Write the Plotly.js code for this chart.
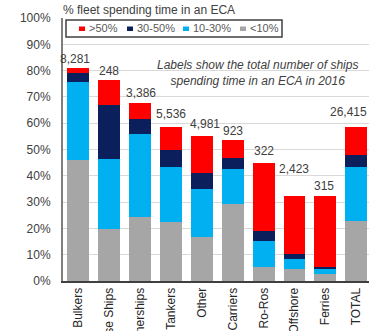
<!DOCTYPE html>
<html>
<head>
<meta charset="utf-8">
<script src="https://cdn.plot.ly/plotly-3.0.1.min.js"></script>
<style>html,body{margin:0;padding:0;background:#fff;}#chart{width:369px;height:331px;}</style>
</head>
<body>
<div id="chart"></div>
<script>
// ---- data ----
var categories = ['Bulkers','Cruise Ships','Containerships','Tankers','Other','Gas Carriers','Ro-Ros','Offshore','Ferries','TOTAL'];
var under10  = [46.0, 19.6, 24.4, 22.5, 16.8, 29.1, 5.4, 4.4, 2.5, 23.0];
var p10to30  = [29.5, 26.7, 31.6, 20.9, 18.1, 13.4, 9.8, 3.8, 2.0, 20.4];
var p30to50  = [3.6, 20.7, 5.5, 6.3, 6.0, 4.1, 3.8, 2.0, 0.9, 4.4];
var over50   = [1.9, 9.3, 6.3, 8.9, 14.2, 7.2, 26.0, 22.1, 26.9, 10.8];
var shipCounts = ['8,281','248','3,386','5,536','4,981','923','322','2,423','315','26,415'];
var seriesNames = ['>50%','30-50%','10-30%','<10%'];
var seriesColors = ['#FF0000','#0A1F5C','#00B0F0','#A6A6A6'];

// ---- layout helpers (pixel -> paper) ----
var W = 369, H = 331, ML = 63, MR = 0, MT = 18, MB = 50;
var PW = W - ML - MR, PH = H - MT - MB;
function px(x){ return (x - ML) / PW; }
function py(y){ return (H - MB - y) / PH; }

var stackOrder = [[under10,3],[p10to30,2],[p30to50,1],[over50,0]];
var traces = stackOrder.map(function(s){
  return {
    type:'bar', x:categories, y:s[0], name:seriesNames[s[1]],
    marker:{color:seriesColors[s[1]], line:{width:0}},
    showlegend:false, hoverinfo:'x+y+name'
  };
});

var totals = categories.map(function(c,i){ return under10[i]+p10to30[i]+p30to50[i]+over50[i]; });
var nudgeY = [0,0,1,4,3,0,3,18,1,6];
var nudgeX = [-3,0,1,0,3,0,0,0,-1,-8];

var annotations = categories.map(function(c,i){
  return {x:c, y:totals[i], xref:'x', yref:'y', text:shipCounts[i], showarrow:false,
    yanchor:'bottom', xanchor:'center', yshift:nudgeY[i], xshift:nudgeX[i],
    font:{family:'Liberation Sans, Arial, sans-serif', size:12, color:'#404040'}};
});
annotations.push({
  x:px(257), y:py(72.5), xref:'paper', yref:'paper', showarrow:false, xanchor:'center', yanchor:'middle',
  text:'<i>Labels show the total number of ships<br>spending time in an ECA in 2016</i>',
  font:{family:'Liberation Sans, Arial, sans-serif', size:12, color:'#404040'}
});

// manual legend
var legX = [82,130,186,243];
var shapes = [{type:'rect', xref:'paper', yref:'paper', x0:px(66), x1:px(282), y0:py(37), y1:py(20),
  line:{color:'#404040', width:1.5}, fillcolor:'#FFFFFF', layer:'above'}];
seriesNames.forEach(function(n,i){
  shapes.push({type:'rect', xref:'paper', yref:'paper', x0:px(legX[i]-3), x1:px(legX[i]+3),
    y0:py(31), y1:py(26.5), line:{width:0}, fillcolor:seriesColors[i], layer:'above'});
  annotations.push({x:px(legX[i]+5), y:py(28.5), xref:'paper', yref:'paper', text:n, showarrow:false,
    xanchor:'left', yanchor:'middle', font:{family:'Liberation Sans, Arial, sans-serif', size:11, color:'#595959'}});
});

var layout = {
  width:W, height:H,
  margin:{l:ML, r:MR, t:MT, b:MB, pad:0},
  paper_bgcolor:'#FFFFFF', plot_bgcolor:'#FFFFFF',
  barmode:'stack', bargap:0.29,
  showlegend:false,
  title:{text:'% fleet spending time in an ECA', x:ML/W, xanchor:'left', xref:'container',
    y:1-10/H, yanchor:'middle', yref:'container',
    font:{family:'Liberation Sans, Arial, sans-serif', size:12, color:'#404040'}},
  xaxis:{range:[-0.5, 9.415], tickangle:-90, showgrid:false, showline:true, linecolor:'#404040', linewidth:2,
    ticks:'', fixedrange:true, automargin:false,
    tickfont:{family:'Liberation Sans, Arial, sans-serif', size:12, color:'#262626'}},
  yaxis:{range:[0,100], dtick:10, ticksuffix:'%', showgrid:true, gridcolor:'#D9D9D9', gridwidth:1,
    showline:true, linecolor:'#7F7F7F', linewidth:2, ticks:'', ticklabelstandoff:8, zeroline:false,
    automargin:false, fixedrange:true,
    tickfont:{family:'Liberation Sans, Arial, sans-serif', size:12, color:'#404040'}},
  annotations:annotations,
  shapes:shapes
};

Plotly.newPlot('chart', traces, layout, {displayModeBar:false, staticPlot:true});
</script>
</body>
</html>
